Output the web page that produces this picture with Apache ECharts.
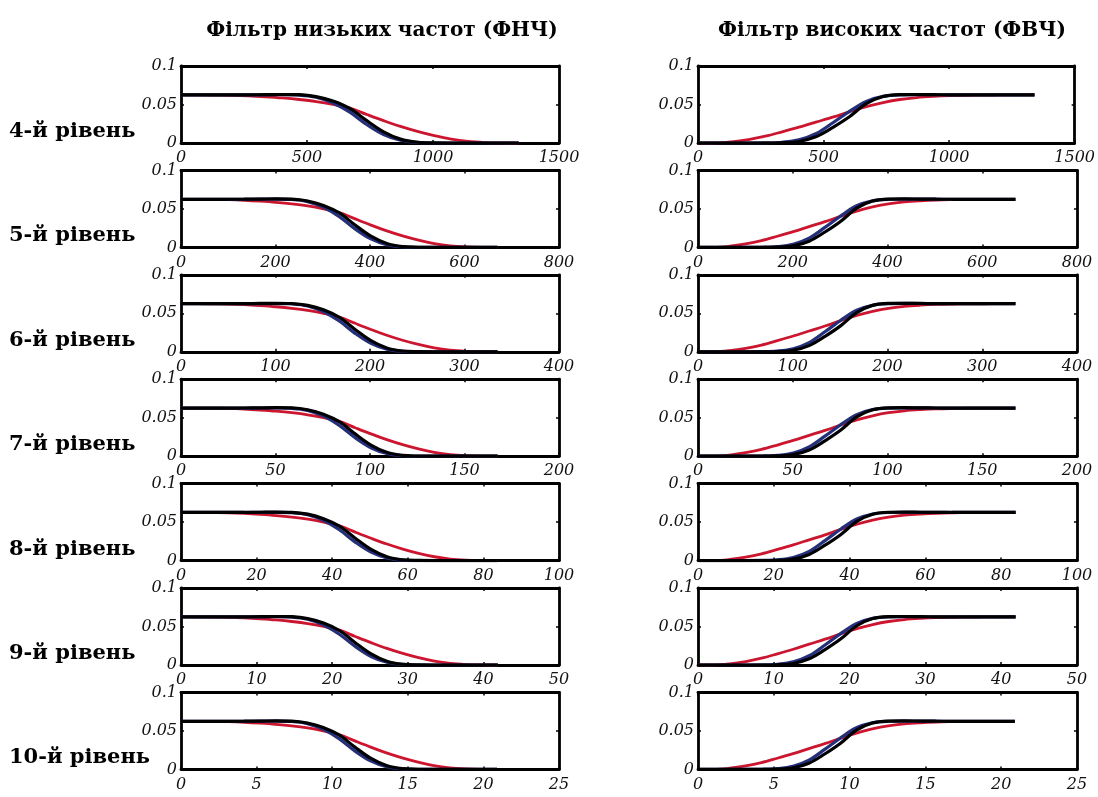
<!DOCTYPE html>
<html>
<head>
<meta charset="utf-8">
<script src="https://cdn.jsdelivr.net/npm/echarts@6/dist/echarts.min.js"></script>
<style>
html,body{margin:0;padding:0;background:#fff;}
#chart{width:1098px;height:797px;}
</style>
</head>
<body>
<div id="chart"></div>
<script>
// ---------- data ----------
const columnTitles = ['Фільтр низьких частот (ФНЧ)', 'Фільтр високих частот (ФВЧ)'];
const levelNames = ['4-й рівень', '5-й рівень', '6-й рівень', '7-й рівень', '8-й рівень', '9-й рівень', '10-й рівень'];
const axisMax = [1500, 800, 400, 200, 100, 50, 25];
const axisStep = [500, 200, 100, 50, 20, 10, 5];
// last plotted frequency of each level
const bandEnd = [1340, 670, 335, 167.5, 83.8, 41.9, 20.9];
// sample positions as a fraction of each level's band end
const freqFrac = [0, 0.05, 0.1, 0.15, 0.2, 0.25, 0.3, 0.35, 0.4, 0.45, 0.5, 0.55, 0.6, 0.65, 0.7, 0.75, 0.8, 0.85, 0.9, 0.95, 1];
// low-pass responses
const lowBlack = [0.0625, 0.0625, 0.0625, 0.0625, 0.0626, 0.0628, 0.063, 0.0627, 0.0603, 0.0545, 0.0448, 0.029, 0.0145, 0.005, 0.001, 0.0002, 0, 0, 0, 0, 0];
const lowBlue  = [0.0625, 0.0625, 0.0625, 0.0625, 0.0625, 0.0626, 0.0627, 0.0622, 0.0595, 0.052, 0.040, 0.024, 0.011, 0.0035, 0.0007, 0, 0, 0, 0, 0, 0];
const lowRed   = [0.0625, 0.0625, 0.0623, 0.062, 0.0612, 0.060, 0.0585, 0.0565, 0.0538, 0.050, 0.0452, 0.037, 0.029, 0.0215, 0.015, 0.0095, 0.005, 0.002, 0.0006, 0.0001, 0];
// high-pass responses
const highBlack = [0, 0, 0, 0, 0, 0.0003, 0.002, 0.008, 0.020, 0.034, 0.051, 0.0603, 0.0628, 0.063, 0.0628, 0.0626, 0.0625, 0.0625, 0.0625, 0.0625, 0.0625];
const highBlue  = [0, 0, 0, 0, 0.0002, 0.001, 0.004, 0.012, 0.026, 0.041, 0.054, 0.0605, 0.0625, 0.0628, 0.0627, 0.0626, 0.0625, 0.0625, 0.0625, 0.0625, 0.0625];
const highRed   = [0, 0, 0.0015, 0.0045, 0.0088, 0.0145, 0.0205, 0.027, 0.0335, 0.0405, 0.0472, 0.0525, 0.0565, 0.059, 0.0605, 0.0615, 0.062, 0.0623, 0.0624, 0.0625, 0.0625];

// ---------- build ----------
const chart = echarts.init(document.getElementById('chart'), null, {renderer: 'canvas'});
const rowTop0 = 66, rowGap = 104.4, boxH = 77;
const colLeft = [181, 698], boxW = [378, 379];
const lineCol = {black: '#000000', blue: '#25307c', red: '#cc1630'};
const labelFont = {fontFamily: 'DejaVu Serif', fontStyle: 'italic', fontSize: 16, color: '#111'};

const grids = [], xAxes = [], yAxes = [], series = [], titles = [];

titles.push({text: columnTitles[0], left: 377, top: 16, textAlign: 'center',
  textStyle: {fontFamily: 'DejaVu Serif', fontWeight: 'bold', fontSize: 20, color: '#000'}});
titles.push({text: columnTitles[1], left: 887, top: 16, textAlign: 'center',
  textStyle: {fontFamily: 'DejaVu Serif', fontWeight: 'bold', fontSize: 20, color: '#000'}});

function pts(vals, end) {
  return freqFrac.map((f, i) => [f * end, vals[i]]);
}

levelNames.forEach((name, r) => {
  const top = rowTop0 + r * rowGap;
  titles.push({text: name, left: 4, top: top + 50,
    textStyle: {fontFamily: 'DejaVu Serif', fontWeight: 'bold', fontSize: 21, color: '#000'}});
  for (let c = 0; c < 2; c++) {
    const gi = grids.length;
    grids.push({left: colLeft[c], top: top, width: boxW[c], height: boxH, containLabel: false});
    const axLine = {show: true, onZero: false, lineStyle: {color: '#000', width: 2.8}};
    const tick = {show: true, inside: true, length: 3, lineStyle: {color: '#000', width: 1.5}};
    xAxes.push({type: 'value', gridIndex: gi, position: 'bottom', min: 0, max: axisMax[r], interval: axisStep[r],
      axisLine: axLine, axisTick: tick, splitLine: {show: false},
      axisLabel: Object.assign({margin: 7, showMinLabel: true, showMaxLabel: true,
        formatter: v => String(v)}, labelFont)});
    xAxes.push({type: 'value', gridIndex: gi, position: 'top', min: 0, max: axisMax[r], interval: axisStep[r],
      axisLine: axLine, axisTick: tick, splitLine: {show: false}, axisLabel: {show: false}});
    yAxes.push({type: 'value', gridIndex: gi, position: 'left', min: 0, max: 0.1, interval: 0.05,
      axisLine: axLine, axisTick: tick, splitLine: {show: false},
      axisLabel: Object.assign({margin: 4, formatter: v => String(v)}, labelFont)});
    yAxes.push({type: 'value', gridIndex: gi, position: 'right', min: 0, max: 0.1, interval: 0.05,
      axisLine: axLine, axisTick: tick, splitLine: {show: false}, axisLabel: {show: false}});
    const xi = gi * 2, yi = gi * 2;
    const sets = c === 0 ? [[lowRed, 'red', 2.8], [lowBlue, 'blue', 3.2], [lowBlack, 'black', 3.2]]
                         : [[highRed, 'red', 2.8], [highBlue, 'blue', 3.2], [highBlack, 'black', 3.2]];
    sets.forEach(([vals, col, w]) => {
      series.push({type: 'line', xAxisIndex: xi, yAxisIndex: yi, data: pts(vals, bandEnd[r]),
        showSymbol: false, smooth: 0.35, animation: false, silent: true,
        lineStyle: {color: lineCol[col], width: w}});
    });
  }
});

chart.setOption({
  backgroundColor: '#ffffff',
  animation: false,
  title: titles,
  grid: grids,
  xAxis: xAxes,
  yAxis: yAxes,
  series: series
});
</script>
</body>
</html>
